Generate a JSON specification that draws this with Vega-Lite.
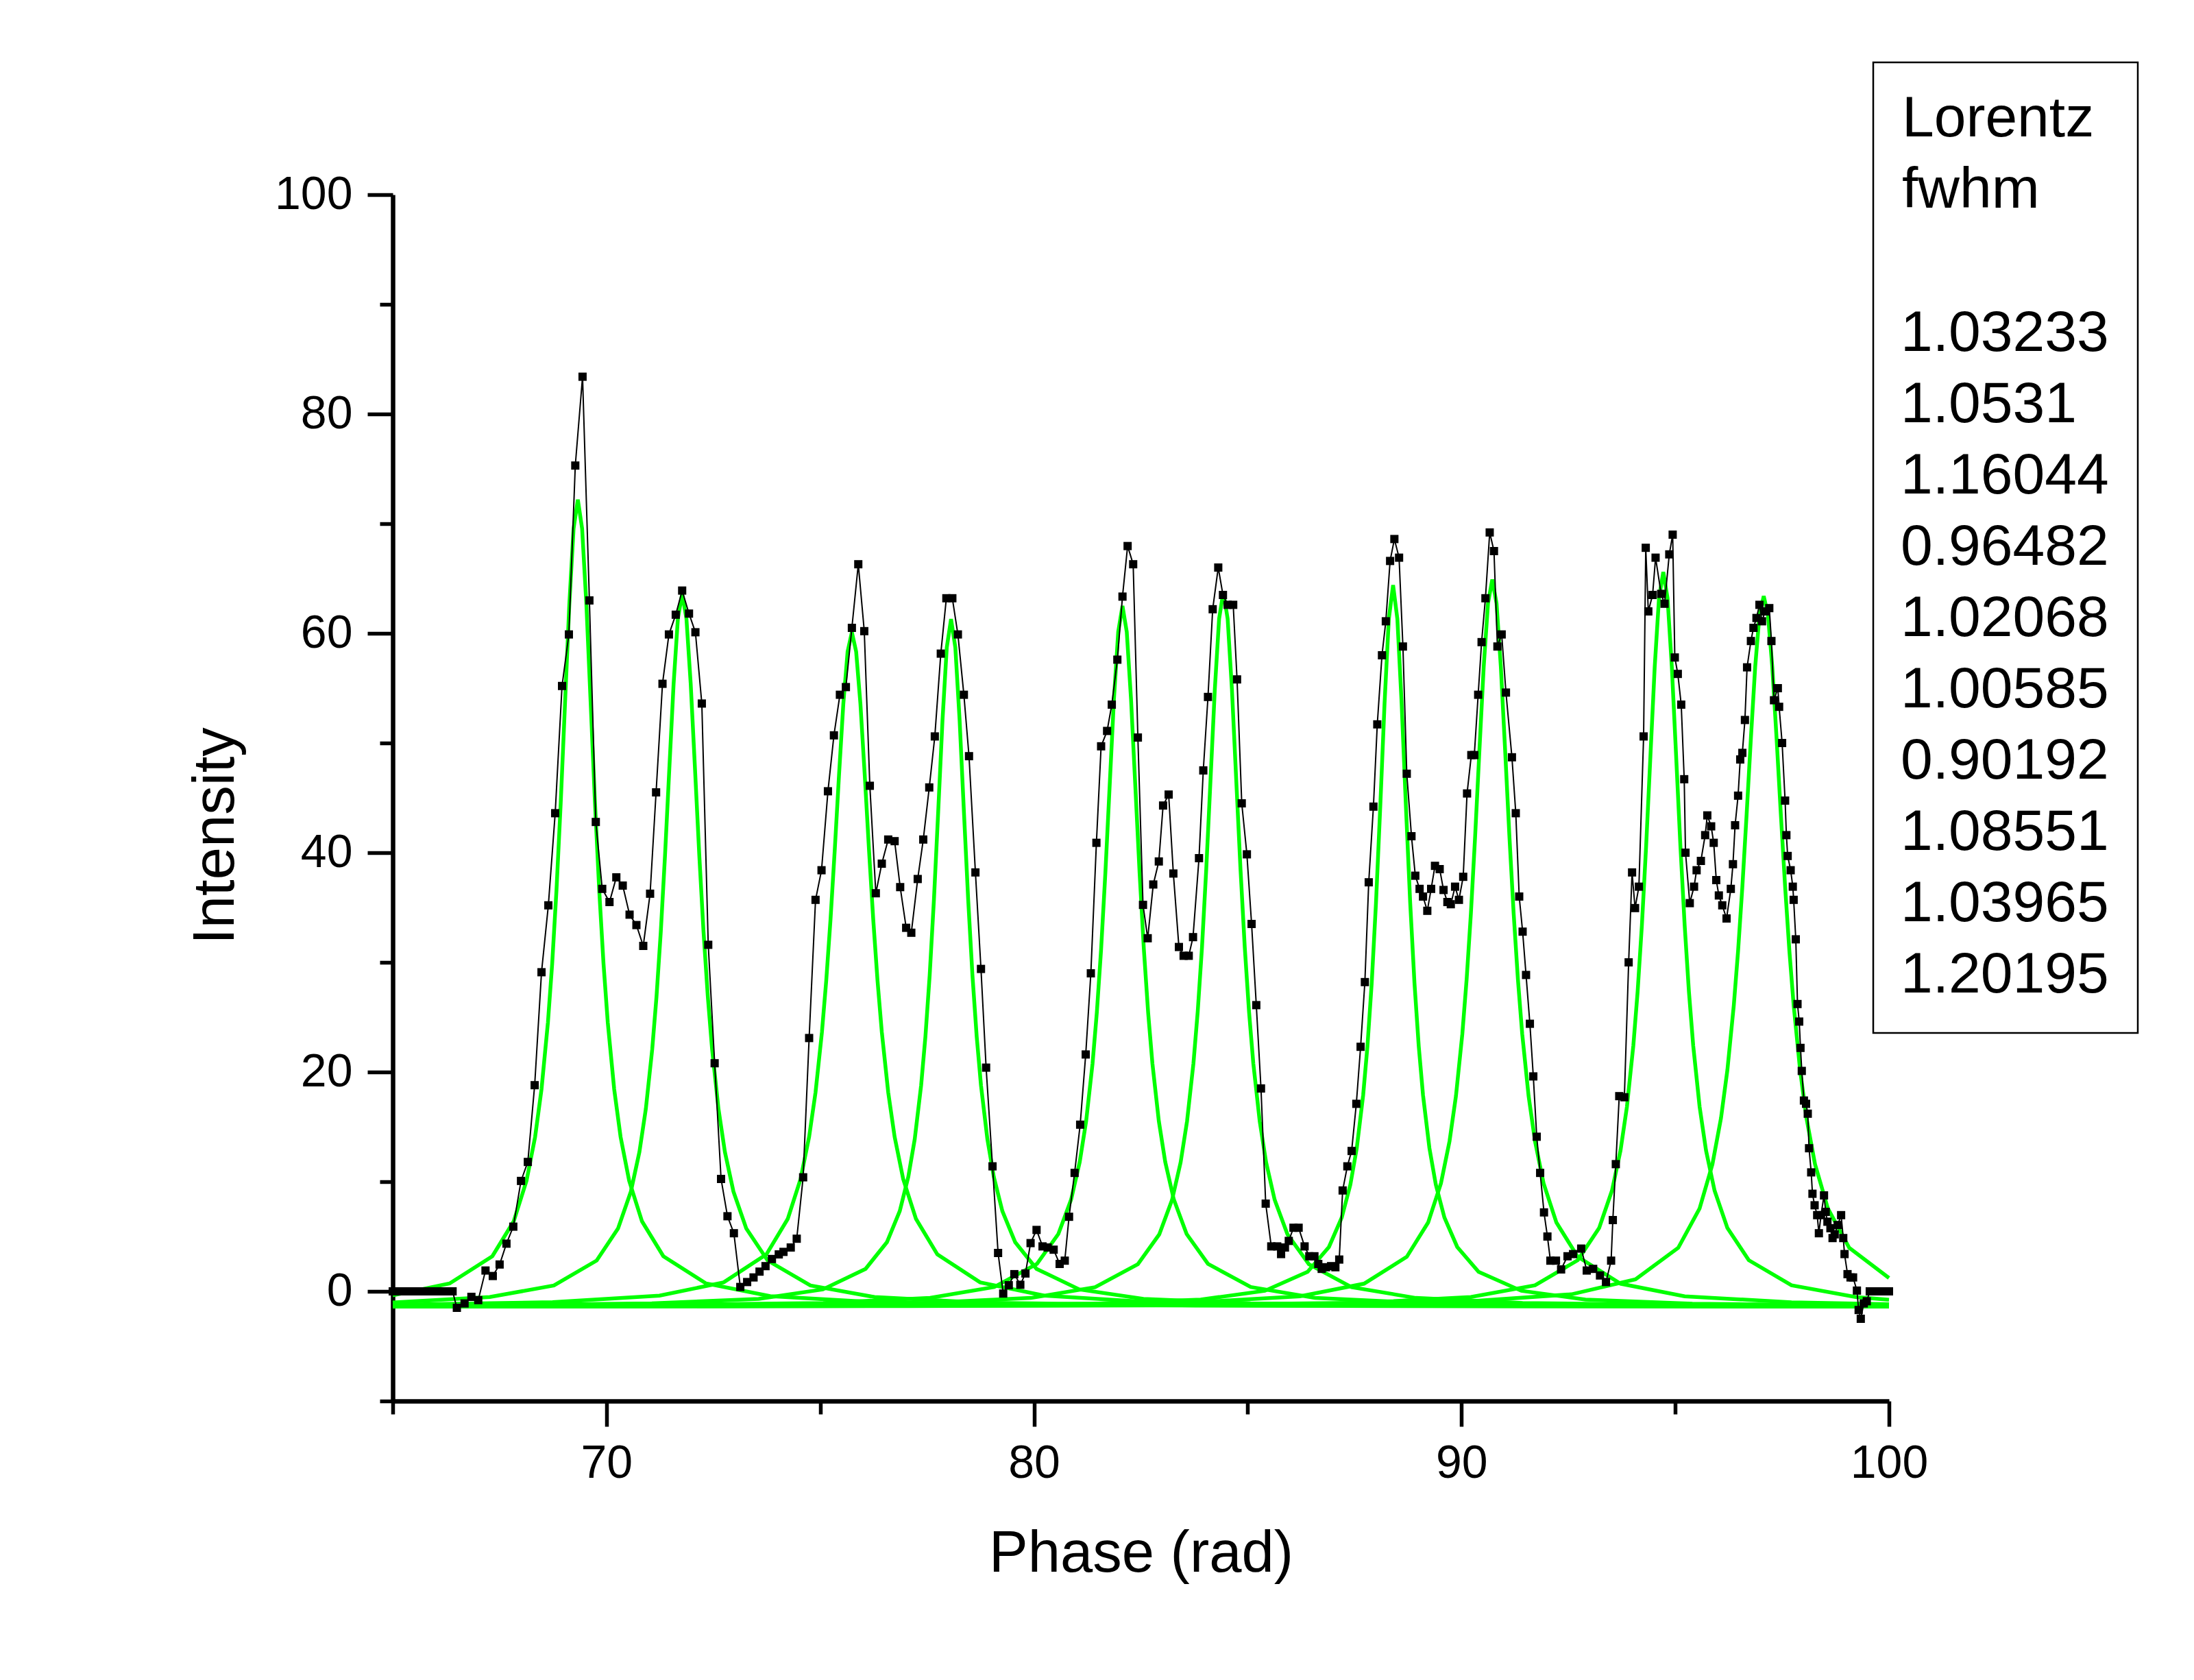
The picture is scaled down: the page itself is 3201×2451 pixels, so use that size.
{
"$schema": "https://vega.github.io/schema/vega-lite/v6.json",
"width": 2183, "height": 1760,
"autosize": {"type": "none"},
"padding": {"left": 573, "top": 284, "right": 445, "bottom": 407},
"background": "white",
"config": {"view": {"stroke": null}, "font": "Liberation Sans"},
"resolve": {"axis": {"x": "independent", "y": "independent"}},
"datasets": {
"measured": [
{"phase":65.0,"intensity":0},{"phase":65.1,"intensity":0},{"phase":65.2,"intensity":0},{"phase":65.3,"intensity":0},{"phase":65.4,"intensity":0},{"phase":65.5,"intensity":0},{"phase":65.6,"intensity":0},{"phase":65.7,"intensity":0},{"phase":65.8,"intensity":0},{"phase":65.9,"intensity":0},{"phase":66.0,"intensity":0},{"phase":66.1,"intensity":0},{"phase":66.2,"intensity":0},{"phase":66.3,"intensity":0},{"phase":66.4,"intensity":0},
{"phase":66.5,"intensity":-1.5},{"phase":66.68,"intensity":-1.1},{"phase":66.84,"intensity":-0.5},{"phase":67.0,"intensity":-0.8},{"phase":67.17,"intensity":1.9},{"phase":67.34,"intensity":1.4},{"phase":67.5,"intensity":2.45},{"phase":67.66,"intensity":4.35},{"phase":67.82,"intensity":5.9},{"phase":68.0,"intensity":10.07},{"phase":68.16,"intensity":11.8},{"phase":68.32,"intensity":18.8},{"phase":68.48,"intensity":29.1},{"phase":68.64,"intensity":35.2},{"phase":68.8,"intensity":43.6},{"phase":68.96,"intensity":55.2},{"phase":69.12,"intensity":59.9},{"phase":69.27,"intensity":75.3},{"phase":69.44,"intensity":83.4},{"phase":69.6,"intensity":63.0},{"phase":69.75,"intensity":42.8},{"phase":69.9,"intensity":36.7},{"phase":70.07,"intensity":35.5},{"phase":70.23,"intensity":37.75},{"phase":70.38,"intensity":37.0},{"phase":70.54,"intensity":34.35},{"phase":70.7,"intensity":33.4},{"phase":70.86,"intensity":31.5},{"phase":71.02,"intensity":36.26},{"phase":71.16,"intensity":45.5},{"phase":71.31,"intensity":55.4},{"phase":71.46,"intensity":59.9},{"phase":71.62,"intensity":61.7},{"phase":71.77,"intensity":63.9},{"phase":71.93,"intensity":61.8},{"phase":72.08,"intensity":60.1},{"phase":72.23,"intensity":53.6},{"phase":72.38,"intensity":31.6},{"phase":72.53,"intensity":20.8},{"phase":72.68,"intensity":10.25},{"phase":72.83,"intensity":6.85},{"phase":72.98,"intensity":5.3},{"phase":73.13,"intensity":0.4},{"phase":73.29,"intensity":0.85},{"phase":73.44,"intensity":1.27},{"phase":73.58,"intensity":1.8},{"phase":73.72,"intensity":2.3},{"phase":73.87,"intensity":2.95},{"phase":74.03,"intensity":3.37},{"phase":74.14,"intensity":3.6},{"phase":74.31,"intensity":4.0},{"phase":74.45,"intensity":4.8},{"phase":74.6,"intensity":10.4},{"phase":74.74,"intensity":23.1},{"phase":74.89,"intensity":35.7},{"phase":75.03,"intensity":38.4},{"phase":75.18,"intensity":45.6},{"phase":75.32,"intensity":50.7},{"phase":75.46,"intensity":54.4},{"phase":75.6,"intensity":55.1},{"phase":75.74,"intensity":60.5},{"phase":75.89,"intensity":66.3},{"phase":76.03,"intensity":60.2},{"phase":76.16,"intensity":46.1},{"phase":76.3,"intensity":36.3},{"phase":76.44,"intensity":39.0},{"phase":76.59,"intensity":41.2},{"phase":76.74,"intensity":41.05},{"phase":76.87,"intensity":36.86},{"phase":77.01,"intensity":33.15},{"phase":77.13,"intensity":32.7},{"phase":77.28,"intensity":37.6},{"phase":77.41,"intensity":41.2},{"phase":77.55,"intensity":45.95},{"phase":77.68,"intensity":50.6},{"phase":77.82,"intensity":58.15},{"phase":77.95,"intensity":63.2},{"phase":78.09,"intensity":63.2},{"phase":78.22,"intensity":59.9},{"phase":78.36,"intensity":54.4},{"phase":78.48,"intensity":48.8},{"phase":78.63,"intensity":38.2},{"phase":78.76,"intensity":29.4},{"phase":78.88,"intensity":20.4},{"phase":79.03,"intensity":11.4},{"phase":79.16,"intensity":3.5},{"phase":79.28,"intensity":-0.2},{"phase":79.41,"intensity":0.56},{"phase":79.54,"intensity":1.57},{"phase":79.68,"intensity":0.6},{"phase":79.8,"intensity":1.63},{"phase":79.92,"intensity":4.4},{"phase":80.06,"intensity":5.6},{"phase":80.2,"intensity":4.1},{"phase":80.32,"intensity":4.0},{"phase":80.46,"intensity":3.8},{"phase":80.6,"intensity":2.5},{"phase":80.72,"intensity":2.8},{"phase":80.82,"intensity":6.8},{"phase":80.95,"intensity":10.8},{"phase":81.08,"intensity":15.2},{"phase":81.21,"intensity":21.6},{"phase":81.33,"intensity":29.0},{"phase":81.46,"intensity":40.9},{"phase":81.57,"intensity":49.7},{"phase":81.71,"intensity":51.1},{"phase":81.82,"intensity":53.5},{"phase":81.95,"intensity":57.6},{"phase":82.07,"intensity":63.35},{"phase":82.19,"intensity":67.96},{"phase":82.32,"intensity":66.3},{"phase":82.43,"intensity":50.5},{"phase":82.55,"intensity":35.24},{"phase":82.66,"intensity":32.2},{"phase":82.79,"intensity":37.1},{"phase":82.92,"intensity":39.2},{"phase":83.02,"intensity":44.3},{"phase":83.15,"intensity":45.3},{"phase":83.26,"intensity":38.1},{"phase":83.39,"intensity":31.4},{"phase":83.5,"intensity":30.6},{"phase":83.62,"intensity":30.6},{"phase":83.72,"intensity":32.3},{"phase":83.86,"intensity":39.5},{"phase":83.96,"intensity":47.5},{"phase":84.07,"intensity":54.2},{"phase":84.18,"intensity":62.2},{"phase":84.31,"intensity":66.0},{"phase":84.42,"intensity":63.5},{"phase":84.53,"intensity":62.6},{"phase":84.66,"intensity":62.6},{"phase":84.75,"intensity":55.8},{"phase":84.86,"intensity":44.5},{"phase":84.98,"intensity":39.85},{"phase":85.09,"intensity":33.5},{"phase":85.2,"intensity":26.1},{"phase":85.31,"intensity":18.5},{"phase":85.42,"intensity":8.0},{"phase":85.55,"intensity":4.1},{"phase":85.69,"intensity":4.1},{"phase":85.78,"intensity":3.4},{"phase":85.87,"intensity":4.0},{"phase":85.96,"intensity":4.6},{"phase":86.07,"intensity":5.8},{"phase":86.19,"intensity":5.8},{"phase":86.33,"intensity":4.1},{"phase":86.44,"intensity":3.2},{"phase":86.56,"intensity":3.2},{"phase":86.65,"intensity":2.5},{"phase":86.73,"intensity":2.05},{"phase":86.83,"intensity":2.2},{"phase":86.95,"intensity":2.3},{"phase":87.05,"intensity":2.2},{"phase":87.14,"intensity":2.9},{"phase":87.22,"intensity":9.2},{"phase":87.33,"intensity":11.4},{"phase":87.43,"intensity":12.8},{"phase":87.54,"intensity":17.1},{"phase":87.64,"intensity":22.3},{"phase":87.74,"intensity":28.2},{"phase":87.83,"intensity":37.3},{"phase":87.94,"intensity":44.2},{"phase":88.03,"intensity":51.7},{"phase":88.14,"intensity":58.0},{"phase":88.23,"intensity":61.1},{"phase":88.33,"intensity":66.6},{"phase":88.43,"intensity":68.6},{"phase":88.54,"intensity":66.9},{"phase":88.63,"intensity":58.8},{"phase":88.72,"intensity":47.2},{"phase":88.83,"intensity":41.5},{"phase":88.92,"intensity":37.9},{"phase":89.02,"intensity":36.7},{"phase":89.1,"intensity":36.0},{"phase":89.2,"intensity":34.7},{"phase":89.29,"intensity":36.7},{"phase":89.38,"intensity":38.8},{"phase":89.49,"intensity":38.5},{"phase":89.58,"intensity":36.6},{"phase":89.67,"intensity":35.5},{"phase":89.75,"intensity":35.3},{"phase":89.85,"intensity":36.9},{"phase":89.94,"intensity":35.7},{"phase":90.04,"intensity":37.8},{"phase":90.13,"intensity":45.4},{"phase":90.23,"intensity":48.9},{"phase":90.3,"intensity":48.9},{"phase":90.39,"intensity":54.4},{"phase":90.47,"intensity":59.2},{"phase":90.56,"intensity":63.2},{"phase":90.66,"intensity":69.2},{"phase":90.76,"intensity":67.5},{"phase":90.84,"intensity":58.8},{"phase":90.94,"intensity":59.9},{"phase":91.04,"intensity":54.6},{"phase":91.18,"intensity":48.7},{"phase":91.27,"intensity":43.6},{"phase":91.35,"intensity":36.0},{"phase":91.43,"intensity":32.8},{"phase":91.51,"intensity":28.85},{"phase":91.6,"intensity":24.4},{"phase":91.68,"intensity":19.6},{"phase":91.76,"intensity":14.1},{"phase":91.84,"intensity":10.8},{"phase":91.93,"intensity":7.2},{"phase":92.01,"intensity":5.0},{"phase":92.08,"intensity":2.8},{"phase":92.21,"intensity":2.8},{"phase":92.33,"intensity":2.0},{"phase":92.48,"intensity":3.2},{"phase":92.61,"intensity":3.4},{"phase":92.8,"intensity":3.9},{"phase":92.93,"intensity":1.9},{"phase":93.08,"intensity":2.05},{"phase":93.24,"intensity":1.45},{"phase":93.38,"intensity":0.85},{"phase":93.5,"intensity":2.8},{"phase":93.54,"intensity":6.5},{"phase":93.61,"intensity":11.6},{"phase":93.69,"intensity":17.8},{"phase":93.81,"intensity":17.7},{"phase":93.91,"intensity":30.0},{"phase":93.99,"intensity":38.2},{"phase":94.06,"intensity":34.95},{"phase":94.15,"intensity":36.9},{"phase":94.26,"intensity":50.6},{"phase":94.31,"intensity":67.8},{"phase":94.37,"intensity":62.0},{"phase":94.47,"intensity":63.5},{"phase":94.54,"intensity":66.9},{"phase":94.67,"intensity":63.6},{"phase":94.75,"intensity":62.7},{"phase":94.86,"intensity":67.2},{"phase":94.94,"intensity":69.0},{"phase":94.99,"intensity":57.8},{"phase":95.06,"intensity":56.3},{"phase":95.14,"intensity":53.5},{"phase":95.21,"intensity":46.7},{"phase":95.24,"intensity":40.0},{"phase":95.34,"intensity":35.4},{"phase":95.44,"intensity":36.9},{"phase":95.5,"intensity":38.4},{"phase":95.6,"intensity":39.25},{"phase":95.7,"intensity":41.6},{"phase":95.75,"intensity":43.4},{"phase":95.84,"intensity":42.4},{"phase":95.9,"intensity":40.9},{"phase":95.96,"intensity":37.5},{"phase":96.02,"intensity":36.1},{"phase":96.1,"intensity":35.2},{"phase":96.2,"intensity":34.0},{"phase":96.3,"intensity":36.7},{"phase":96.35,"intensity":38.95},{"phase":96.4,"intensity":42.5},{"phase":96.47,"intensity":45.2},{"phase":96.52,"intensity":48.5},{"phase":96.57,"intensity":49.1},{"phase":96.63,"intensity":52.1},{"phase":96.68,"intensity":56.9},{"phase":96.77,"intensity":59.3},{"phase":96.83,"intensity":60.5},{"phase":96.9,"intensity":61.4},{"phase":96.97,"intensity":62.6},{"phase":97.03,"intensity":61.1},{"phase":97.1,"intensity":62.0},{"phase":97.2,"intensity":62.3},{"phase":97.25,"intensity":59.3},{"phase":97.31,"intensity":53.9},{"phase":97.4,"intensity":55.0},{"phase":97.43,"intensity":53.3},{"phase":97.5,"intensity":50.0},{"phase":97.57,"intensity":44.75},{"phase":97.6,"intensity":41.6},{"phase":97.63,"intensity":39.7},{"phase":97.7,"intensity":38.4},{"phase":97.75,"intensity":36.9},{"phase":97.77,"intensity":35.7},{"phase":97.82,"intensity":32.1},{"phase":97.86,"intensity":26.2},{"phase":97.9,"intensity":24.6},{"phase":97.93,"intensity":22.2},{"phase":97.96,"intensity":20.1},{"phase":98.01,"intensity":17.4},{"phase":98.06,"intensity":17.1},{"phase":98.1,"intensity":16.2},{"phase":98.13,"intensity":13.05},{"phase":98.18,"intensity":10.85},{"phase":98.21,"intensity":8.9},{"phase":98.26,"intensity":7.85},{"phase":98.32,"intensity":6.95},{"phase":98.36,"intensity":5.3},{"phase":98.41,"intensity":6.95},{"phase":98.48,"intensity":8.75},{"phase":98.52,"intensity":7.25},{"phase":98.56,"intensity":6.35},{"phase":98.63,"intensity":5.76},{"phase":98.68,"intensity":4.86},{"phase":98.73,"intensity":5.2},{"phase":98.8,"intensity":6.05},{"phase":98.88,"intensity":6.95},{"phase":98.93,"intensity":4.86},{"phase":98.96,"intensity":3.4},{"phase":99.03,"intensity":1.57},{"phase":99.1,"intensity":1.27},{"phase":99.16,"intensity":1.27},{"phase":99.25,"intensity":0.07},{"phase":99.29,"intensity":-1.7},{"phase":99.34,"intensity":-2.5},{"phase":99.41,"intensity":-1.1},{"phase":99.48,"intensity":-0.9},{"phase":99.55,"intensity":0},{"phase":99.6,"intensity":0},{"phase":99.7,"intensity":0},{"phase":99.8,"intensity":0},{"phase":99.9,"intensity":0},{"phase":100,"intensity":0}
],
"fits": [
{"phase":65,"intensity":-0.37,"fwhm":"1.03233"},{"phase":66.33,"intensity":0.72,"fwhm":"1.03233"},{"phase":67.33,"intensity":3.2,"fwhm":"1.03233"},{"phase":67.83,"intensity":6.39,"fwhm":"1.03233"},{"phase":68.13,"intensity":10.09,"fwhm":"1.03233"},{"phase":68.33,"intensity":14.08,"fwhm":"1.03233"},{"phase":68.48,"intensity":18.43,"fwhm":"1.03233"},{"phase":68.63,"intensity":24.52,"fwhm":"1.03233"},{"phase":68.73,"intensity":29.9,"fwhm":"1.03233"},{"phase":68.83,"intensity":36.57,"fwhm":"1.03233"},{"phase":68.93,"intensity":44.58,"fwhm":"1.03233"},{"phase":69.03,"intensity":53.62,"fwhm":"1.03233"},{"phase":69.13,"intensity":62.6,"fwhm":"1.03233"},{"phase":69.23,"intensity":69.54,"fwhm":"1.03233"},{"phase":69.33,"intensity":72.2,"fwhm":"1.03233"},{"phase":69.43,"intensity":69.54,"fwhm":"1.03233"},{"phase":69.53,"intensity":62.6,"fwhm":"1.03233"},{"phase":69.63,"intensity":53.62,"fwhm":"1.03233"},{"phase":69.73,"intensity":44.58,"fwhm":"1.03233"},{"phase":69.83,"intensity":36.57,"fwhm":"1.03233"},{"phase":69.93,"intensity":29.9,"fwhm":"1.03233"},{"phase":70.03,"intensity":24.52,"fwhm":"1.03233"},{"phase":70.18,"intensity":18.43,"fwhm":"1.03233"},{"phase":70.33,"intensity":14.08,"fwhm":"1.03233"},{"phase":70.53,"intensity":10.09,"fwhm":"1.03233"},{"phase":70.83,"intensity":6.39,"fwhm":"1.03233"},{"phase":71.33,"intensity":3.2,"fwhm":"1.03233"},{"phase":72.33,"intensity":0.72,"fwhm":"1.03233"},{"phase":73.83,"intensity":-0.44,"fwhm":"1.03233"},{"phase":76.33,"intensity":-1.0,"fwhm":"1.03233"},{"phase":81.33,"intensity":-1.26,"fwhm":"1.03233"},{"phase":89.33,"intensity":-1.35,"fwhm":"1.03233"},{"phase":100,"intensity":-1.38,"fwhm":"1.03233"},
{"phase":65,"intensity":-1.01,"fwhm":"1.0531"},{"phase":67.27,"intensity":-0.52,"fwhm":"1.0531"},{"phase":68.77,"intensity":0.54,"fwhm":"1.0531"},{"phase":69.77,"intensity":2.81,"fwhm":"1.0531"},{"phase":70.27,"intensity":5.73,"fwhm":"1.0531"},{"phase":70.57,"intensity":9.1,"fwhm":"1.0531"},{"phase":70.77,"intensity":12.71,"fwhm":"1.0531"},{"phase":70.92,"intensity":16.63,"fwhm":"1.0531"},{"phase":71.07,"intensity":22.09,"fwhm":"1.0531"},{"phase":71.17,"intensity":26.88,"fwhm":"1.0531"},{"phase":71.27,"intensity":32.78,"fwhm":"1.0531"},{"phase":71.37,"intensity":39.82,"fwhm":"1.0531"},{"phase":71.47,"intensity":47.67,"fwhm":"1.0531"},{"phase":71.57,"intensity":55.4,"fwhm":"1.0531"},{"phase":71.67,"intensity":61.34,"fwhm":"1.0531"},{"phase":71.77,"intensity":63.6,"fwhm":"1.0531"},{"phase":71.87,"intensity":61.34,"fwhm":"1.0531"},{"phase":71.97,"intensity":55.4,"fwhm":"1.0531"},{"phase":72.07,"intensity":47.67,"fwhm":"1.0531"},{"phase":72.17,"intensity":39.82,"fwhm":"1.0531"},{"phase":72.27,"intensity":32.78,"fwhm":"1.0531"},{"phase":72.37,"intensity":26.88,"fwhm":"1.0531"},{"phase":72.47,"intensity":22.09,"fwhm":"1.0531"},{"phase":72.62,"intensity":16.63,"fwhm":"1.0531"},{"phase":72.77,"intensity":12.71,"fwhm":"1.0531"},{"phase":72.97,"intensity":9.1,"fwhm":"1.0531"},{"phase":73.27,"intensity":5.73,"fwhm":"1.0531"},{"phase":73.77,"intensity":2.81,"fwhm":"1.0531"},{"phase":74.77,"intensity":0.54,"fwhm":"1.0531"},{"phase":76.27,"intensity":-0.52,"fwhm":"1.0531"},{"phase":78.77,"intensity":-1.03,"fwhm":"1.0531"},{"phase":83.77,"intensity":-1.28,"fwhm":"1.0531"},{"phase":91.77,"intensity":-1.36,"fwhm":"1.0531"},{"phase":100,"intensity":-1.38,"fwhm":"1.0531"},
{"phase":65,"intensity":-1.22,"fwhm":"1.16044"},{"phase":68.74,"intensity":-0.98,"fwhm":"1.16044"},{"phase":71.24,"intensity":-0.39,"fwhm":"1.16044"},{"phase":72.74,"intensity":0.82,"fwhm":"1.16044"},{"phase":73.74,"intensity":3.37,"fwhm":"1.16044"},{"phase":74.24,"intensity":6.61,"fwhm":"1.16044"},{"phase":74.54,"intensity":10.25,"fwhm":"1.16044"},{"phase":74.74,"intensity":14.09,"fwhm":"1.16044"},{"phase":74.89,"intensity":18.15,"fwhm":"1.16044"},{"phase":75.04,"intensity":23.65,"fwhm":"1.16044"},{"phase":75.14,"intensity":28.32,"fwhm":"1.16044"},{"phase":75.24,"intensity":33.89,"fwhm":"1.16044"},{"phase":75.34,"intensity":40.29,"fwhm":"1.16044"},{"phase":75.44,"intensity":47.13,"fwhm":"1.16044"},{"phase":75.54,"intensity":53.57,"fwhm":"1.16044"},{"phase":75.64,"intensity":58.33,"fwhm":"1.16044"},{"phase":75.74,"intensity":60.1,"fwhm":"1.16044"},{"phase":75.84,"intensity":58.33,"fwhm":"1.16044"},{"phase":75.94,"intensity":53.57,"fwhm":"1.16044"},{"phase":76.04,"intensity":47.13,"fwhm":"1.16044"},{"phase":76.14,"intensity":40.29,"fwhm":"1.16044"},{"phase":76.24,"intensity":33.89,"fwhm":"1.16044"},{"phase":76.34,"intensity":28.32,"fwhm":"1.16044"},{"phase":76.44,"intensity":23.65,"fwhm":"1.16044"},{"phase":76.59,"intensity":18.15,"fwhm":"1.16044"},{"phase":76.74,"intensity":14.09,"fwhm":"1.16044"},{"phase":76.94,"intensity":10.25,"fwhm":"1.16044"},{"phase":77.24,"intensity":6.61,"fwhm":"1.16044"},{"phase":77.74,"intensity":3.37,"fwhm":"1.16044"},{"phase":78.74,"intensity":0.82,"fwhm":"1.16044"},{"phase":80.24,"intensity":-0.39,"fwhm":"1.16044"},{"phase":82.74,"intensity":-0.98,"fwhm":"1.16044"},{"phase":87.74,"intensity":-1.26,"fwhm":"1.16044"},{"phase":95.74,"intensity":-1.35,"fwhm":"1.16044"},{"phase":100,"intensity":-1.37,"fwhm":"1.16044"},
{"phase":65,"intensity":-1.31,"fwhm":"0.96482"},{"phase":66.06,"intensity":-1.3,"fwhm":"0.96482"},{"phase":71.06,"intensity":-1.1,"fwhm":"0.96482"},{"phase":73.56,"intensity":-0.69,"fwhm":"0.96482"},{"phase":75.06,"intensity":0.18,"fwhm":"0.96482"},{"phase":76.06,"intensity":2.05,"fwhm":"0.96482"},{"phase":76.56,"intensity":4.48,"fwhm":"0.96482"},{"phase":76.86,"intensity":7.32,"fwhm":"0.96482"},{"phase":77.06,"intensity":10.44,"fwhm":"0.96482"},{"phase":77.21,"intensity":13.87,"fwhm":"0.96482"},{"phase":77.36,"intensity":18.79,"fwhm":"0.96482"},{"phase":77.46,"intensity":23.22,"fwhm":"0.96482"},{"phase":77.56,"intensity":28.83,"fwhm":"0.96482"},{"phase":77.66,"intensity":35.76,"fwhm":"0.96482"},{"phase":77.76,"intensity":43.81,"fwhm":"0.96482"},{"phase":77.86,"intensity":52.1,"fwhm":"0.96482"},{"phase":77.96,"intensity":58.72,"fwhm":"0.96482"},{"phase":78.06,"intensity":61.3,"fwhm":"0.96482"},{"phase":78.16,"intensity":58.72,"fwhm":"0.96482"},{"phase":78.26,"intensity":52.1,"fwhm":"0.96482"},{"phase":78.36,"intensity":43.81,"fwhm":"0.96482"},{"phase":78.46,"intensity":35.76,"fwhm":"0.96482"},{"phase":78.56,"intensity":28.83,"fwhm":"0.96482"},{"phase":78.66,"intensity":23.22,"fwhm":"0.96482"},{"phase":78.76,"intensity":18.79,"fwhm":"0.96482"},{"phase":78.91,"intensity":13.87,"fwhm":"0.96482"},{"phase":79.06,"intensity":10.44,"fwhm":"0.96482"},{"phase":79.26,"intensity":7.32,"fwhm":"0.96482"},{"phase":79.56,"intensity":4.48,"fwhm":"0.96482"},{"phase":80.06,"intensity":2.05,"fwhm":"0.96482"},{"phase":81.06,"intensity":0.18,"fwhm":"0.96482"},{"phase":82.56,"intensity":-0.69,"fwhm":"0.96482"},{"phase":85.06,"intensity":-1.1,"fwhm":"0.96482"},{"phase":90.06,"intensity":-1.3,"fwhm":"0.96482"},{"phase":100,"intensity":-1.37,"fwhm":"0.96482"},
{"phase":65,"intensity":-1.34,"fwhm":"1.02068"},{"phase":70.07,"intensity":-1.28,"fwhm":"1.02068"},{"phase":75.07,"intensity":-1.06,"fwhm":"1.02068"},{"phase":77.57,"intensity":-0.59,"fwhm":"1.02068"},{"phase":79.07,"intensity":0.4,"fwhm":"1.02068"},{"phase":80.07,"intensity":2.51,"fwhm":"1.02068"},{"phase":80.57,"intensity":5.23,"fwhm":"1.02068"},{"phase":80.87,"intensity":8.39,"fwhm":"1.02068"},{"phase":81.07,"intensity":11.8,"fwhm":"1.02068"},{"phase":81.22,"intensity":15.53,"fwhm":"1.02068"},{"phase":81.37,"intensity":20.78,"fwhm":"1.02068"},{"phase":81.47,"intensity":25.43,"fwhm":"1.02068"},{"phase":81.57,"intensity":31.2,"fwhm":"1.02068"},{"phase":81.67,"intensity":38.18,"fwhm":"1.02068"},{"phase":81.77,"intensity":46.09,"fwhm":"1.02068"},{"phase":81.87,"intensity":53.99,"fwhm":"1.02068"},{"phase":81.97,"intensity":60.14,"fwhm":"1.02068"},{"phase":82.07,"intensity":62.5,"fwhm":"1.02068"},{"phase":82.17,"intensity":60.14,"fwhm":"1.02068"},{"phase":82.27,"intensity":53.99,"fwhm":"1.02068"},{"phase":82.37,"intensity":46.09,"fwhm":"1.02068"},{"phase":82.47,"intensity":38.18,"fwhm":"1.02068"},{"phase":82.57,"intensity":31.2,"fwhm":"1.02068"},{"phase":82.67,"intensity":25.43,"fwhm":"1.02068"},{"phase":82.77,"intensity":20.78,"fwhm":"1.02068"},{"phase":82.92,"intensity":15.53,"fwhm":"1.02068"},{"phase":83.07,"intensity":11.8,"fwhm":"1.02068"},{"phase":83.27,"intensity":8.39,"fwhm":"1.02068"},{"phase":83.57,"intensity":5.23,"fwhm":"1.02068"},{"phase":84.07,"intensity":2.51,"fwhm":"1.02068"},{"phase":85.07,"intensity":0.4,"fwhm":"1.02068"},{"phase":86.57,"intensity":-0.59,"fwhm":"1.02068"},{"phase":89.07,"intensity":-1.06,"fwhm":"1.02068"},{"phase":94.07,"intensity":-1.28,"fwhm":"1.02068"},{"phase":100,"intensity":-1.35,"fwhm":"1.02068"},
{"phase":65,"intensity":-1.36,"fwhm":"1.00585"},{"phase":72.43,"intensity":-1.29,"fwhm":"1.00585"},{"phase":77.43,"intensity":-1.07,"fwhm":"1.00585"},{"phase":79.93,"intensity":-0.6,"fwhm":"1.00585"},{"phase":81.43,"intensity":0.38,"fwhm":"1.00585"},{"phase":82.43,"intensity":2.48,"fwhm":"1.00585"},{"phase":82.93,"intensity":5.19,"fwhm":"1.00585"},{"phase":83.23,"intensity":8.34,"fwhm":"1.00585"},{"phase":83.43,"intensity":11.76,"fwhm":"1.00585"},{"phase":83.58,"intensity":15.51,"fwhm":"1.00585"},{"phase":83.73,"intensity":20.8,"fwhm":"1.00585"},{"phase":83.83,"intensity":25.51,"fwhm":"1.00585"},{"phase":83.93,"intensity":31.39,"fwhm":"1.00585"},{"phase":84.03,"intensity":38.54,"fwhm":"1.00585"},{"phase":84.13,"intensity":46.69,"fwhm":"1.00585"},{"phase":84.23,"intensity":54.9,"fwhm":"1.00585"},{"phase":84.33,"intensity":61.32,"fwhm":"1.00585"},{"phase":84.43,"intensity":63.8,"fwhm":"1.00585"},{"phase":84.53,"intensity":61.32,"fwhm":"1.00585"},{"phase":84.63,"intensity":54.9,"fwhm":"1.00585"},{"phase":84.73,"intensity":46.69,"fwhm":"1.00585"},{"phase":84.83,"intensity":38.54,"fwhm":"1.00585"},{"phase":84.93,"intensity":31.39,"fwhm":"1.00585"},{"phase":85.03,"intensity":25.51,"fwhm":"1.00585"},{"phase":85.13,"intensity":20.8,"fwhm":"1.00585"},{"phase":85.28,"intensity":15.51,"fwhm":"1.00585"},{"phase":85.43,"intensity":11.76,"fwhm":"1.00585"},{"phase":85.63,"intensity":8.34,"fwhm":"1.00585"},{"phase":85.93,"intensity":5.19,"fwhm":"1.00585"},{"phase":86.43,"intensity":2.48,"fwhm":"1.00585"},{"phase":87.43,"intensity":0.38,"fwhm":"1.00585"},{"phase":88.93,"intensity":-0.6,"fwhm":"1.00585"},{"phase":91.43,"intensity":-1.07,"fwhm":"1.00585"},{"phase":96.43,"intensity":-1.29,"fwhm":"1.00585"},{"phase":100,"intensity":-1.33,"fwhm":"1.00585"},
{"phase":65,"intensity":-1.38,"fwhm":"0.90192"},{"phase":76.4,"intensity":-1.31,"fwhm":"0.90192"},{"phase":81.4,"intensity":-1.13,"fwhm":"0.90192"},{"phase":83.9,"intensity":-0.75,"fwhm":"0.90192"},{"phase":85.4,"intensity":0.05,"fwhm":"0.90192"},{"phase":86.4,"intensity":1.78,"fwhm":"0.90192"},{"phase":86.9,"intensity":4.05,"fwhm":"0.90192"},{"phase":87.2,"intensity":6.74,"fwhm":"0.90192"},{"phase":87.4,"intensity":9.72,"fwhm":"0.90192"},{"phase":87.55,"intensity":13.05,"fwhm":"0.90192"},{"phase":87.7,"intensity":17.9,"fwhm":"0.90192"},{"phase":87.8,"intensity":22.35,"fwhm":"0.90192"},{"phase":87.9,"intensity":28.12,"fwhm":"0.90192"},{"phase":88.0,"intensity":35.43,"fwhm":"0.90192"},{"phase":88.1,"intensity":44.21,"fwhm":"0.90192"},{"phase":88.2,"intensity":53.59,"fwhm":"0.90192"},{"phase":88.3,"intensity":61.31,"fwhm":"0.90192"},{"phase":88.4,"intensity":64.4,"fwhm":"0.90192"},{"phase":88.5,"intensity":61.31,"fwhm":"0.90192"},{"phase":88.6,"intensity":53.59,"fwhm":"0.90192"},{"phase":88.7,"intensity":44.21,"fwhm":"0.90192"},{"phase":88.8,"intensity":35.43,"fwhm":"0.90192"},{"phase":88.9,"intensity":28.12,"fwhm":"0.90192"},{"phase":89.0,"intensity":22.35,"fwhm":"0.90192"},{"phase":89.1,"intensity":17.9,"fwhm":"0.90192"},{"phase":89.25,"intensity":13.05,"fwhm":"0.90192"},{"phase":89.4,"intensity":9.72,"fwhm":"0.90192"},{"phase":89.6,"intensity":6.74,"fwhm":"0.90192"},{"phase":89.9,"intensity":4.05,"fwhm":"0.90192"},{"phase":90.4,"intensity":1.78,"fwhm":"0.90192"},{"phase":91.4,"intensity":0.05,"fwhm":"0.90192"},{"phase":92.9,"intensity":-0.75,"fwhm":"0.90192"},{"phase":95.4,"intensity":-1.13,"fwhm":"0.90192"},{"phase":100,"intensity":-1.3,"fwhm":"0.90192"},
{"phase":65,"intensity":-1.37,"fwhm":"1.08551"},{"phase":70.72,"intensity":-1.35,"fwhm":"1.08551"},{"phase":78.72,"intensity":-1.27,"fwhm":"1.08551"},{"phase":83.72,"intensity":-1.0,"fwhm":"1.08551"},{"phase":86.22,"intensity":-0.45,"fwhm":"1.08551"},{"phase":87.72,"intensity":0.7,"fwhm":"1.08551"},{"phase":88.72,"intensity":3.15,"fwhm":"1.08551"},{"phase":89.22,"intensity":6.28,"fwhm":"1.08551"},{"phase":89.52,"intensity":9.86,"fwhm":"1.08551"},{"phase":89.72,"intensity":13.69,"fwhm":"1.08551"},{"phase":89.87,"intensity":17.8,"fwhm":"1.08551"},{"phase":90.02,"intensity":23.49,"fwhm":"1.08551"},{"phase":90.12,"intensity":28.44,"fwhm":"1.08551"},{"phase":90.22,"intensity":34.46,"fwhm":"1.08551"},{"phase":90.32,"intensity":41.56,"fwhm":"1.08551"},{"phase":90.42,"intensity":49.39,"fwhm":"1.08551"},{"phase":90.52,"intensity":56.98,"fwhm":"1.08551"},{"phase":90.62,"intensity":62.73,"fwhm":"1.08551"},{"phase":90.72,"intensity":64.9,"fwhm":"1.08551"},{"phase":90.82,"intensity":62.73,"fwhm":"1.08551"},{"phase":90.92,"intensity":56.98,"fwhm":"1.08551"},{"phase":91.02,"intensity":49.39,"fwhm":"1.08551"},{"phase":91.12,"intensity":41.56,"fwhm":"1.08551"},{"phase":91.22,"intensity":34.46,"fwhm":"1.08551"},{"phase":91.32,"intensity":28.44,"fwhm":"1.08551"},{"phase":91.42,"intensity":23.49,"fwhm":"1.08551"},{"phase":91.57,"intensity":17.8,"fwhm":"1.08551"},{"phase":91.72,"intensity":13.69,"fwhm":"1.08551"},{"phase":91.92,"intensity":9.86,"fwhm":"1.08551"},{"phase":92.22,"intensity":6.28,"fwhm":"1.08551"},{"phase":92.72,"intensity":3.15,"fwhm":"1.08551"},{"phase":93.72,"intensity":0.7,"fwhm":"1.08551"},{"phase":95.22,"intensity":-0.45,"fwhm":"1.08551"},{"phase":97.72,"intensity":-1.0,"fwhm":"1.08551"},{"phase":100,"intensity":-1.17,"fwhm":"1.08551"},
{"phase":65,"intensity":-1.38,"fwhm":"1.03965"},{"phase":74.72,"intensity":-1.35,"fwhm":"1.03965"},{"phase":82.72,"intensity":-1.27,"fwhm":"1.03965"},{"phase":87.72,"intensity":-1.03,"fwhm":"1.03965"},{"phase":90.22,"intensity":-0.52,"fwhm":"1.03965"},{"phase":91.72,"intensity":0.55,"fwhm":"1.03965"},{"phase":92.72,"intensity":2.84,"fwhm":"1.03965"},{"phase":93.22,"intensity":5.78,"fwhm":"1.03965"},{"phase":93.52,"intensity":9.19,"fwhm":"1.03965"},{"phase":93.72,"intensity":12.85,"fwhm":"1.03965"},{"phase":93.87,"intensity":16.84,"fwhm":"1.03965"},{"phase":94.02,"intensity":22.42,"fwhm":"1.03965"},{"phase":94.12,"intensity":27.33,"fwhm":"1.03965"},{"phase":94.22,"intensity":33.4,"fwhm":"1.03965"},{"phase":94.32,"intensity":40.68,"fwhm":"1.03965"},{"phase":94.42,"intensity":48.86,"fwhm":"1.03965"},{"phase":94.52,"intensity":56.96,"fwhm":"1.03965"},{"phase":94.62,"intensity":63.21,"fwhm":"1.03965"},{"phase":94.72,"intensity":65.6,"fwhm":"1.03965"},{"phase":94.82,"intensity":63.21,"fwhm":"1.03965"},{"phase":94.92,"intensity":56.96,"fwhm":"1.03965"},{"phase":95.02,"intensity":48.86,"fwhm":"1.03965"},{"phase":95.12,"intensity":40.68,"fwhm":"1.03965"},{"phase":95.22,"intensity":33.4,"fwhm":"1.03965"},{"phase":95.32,"intensity":27.33,"fwhm":"1.03965"},{"phase":95.42,"intensity":22.42,"fwhm":"1.03965"},{"phase":95.57,"intensity":16.84,"fwhm":"1.03965"},{"phase":95.72,"intensity":12.85,"fwhm":"1.03965"},{"phase":95.92,"intensity":9.19,"fwhm":"1.03965"},{"phase":96.22,"intensity":5.78,"fwhm":"1.03965"},{"phase":96.72,"intensity":2.84,"fwhm":"1.03965"},{"phase":97.72,"intensity":0.55,"fwhm":"1.03965"},{"phase":99.22,"intensity":-0.52,"fwhm":"1.03965"},{"phase":100,"intensity":-0.76,"fwhm":"1.03965"},
{"phase":65,"intensity":-1.38,"fwhm":"1.20195"},{"phase":77.07,"intensity":-1.34,"fwhm":"1.20195"},{"phase":85.07,"intensity":-1.24,"fwhm":"1.20195"},{"phase":90.07,"intensity":-0.93,"fwhm":"1.20195"},{"phase":92.57,"intensity":-0.27,"fwhm":"1.20195"},{"phase":94.07,"intensity":1.1,"fwhm":"1.20195"},{"phase":95.07,"intensity":3.97,"fwhm":"1.20195"},{"phase":95.57,"intensity":7.56,"fwhm":"1.20195"},{"phase":95.87,"intensity":11.59,"fwhm":"1.20195"},{"phase":96.07,"intensity":15.79,"fwhm":"1.20195"},{"phase":96.22,"intensity":20.19,"fwhm":"1.20195"},{"phase":96.37,"intensity":26.09,"fwhm":"1.20195"},{"phase":96.47,"intensity":31.05,"fwhm":"1.20195"},{"phase":96.57,"intensity":36.9,"fwhm":"1.20195"},{"phase":96.67,"intensity":43.51,"fwhm":"1.20195"},{"phase":96.77,"intensity":50.47,"fwhm":"1.20195"},{"phase":96.87,"intensity":56.94,"fwhm":"1.20195"},{"phase":96.97,"intensity":61.66,"fwhm":"1.20195"},{"phase":97.07,"intensity":63.4,"fwhm":"1.20195"},{"phase":97.17,"intensity":61.66,"fwhm":"1.20195"},{"phase":97.27,"intensity":56.94,"fwhm":"1.20195"},{"phase":97.37,"intensity":50.47,"fwhm":"1.20195"},{"phase":97.47,"intensity":43.51,"fwhm":"1.20195"},{"phase":97.57,"intensity":36.9,"fwhm":"1.20195"},{"phase":97.67,"intensity":31.05,"fwhm":"1.20195"},{"phase":97.77,"intensity":26.09,"fwhm":"1.20195"},{"phase":97.92,"intensity":20.19,"fwhm":"1.20195"},{"phase":98.07,"intensity":15.79,"fwhm":"1.20195"},{"phase":98.27,"intensity":11.59,"fwhm":"1.20195"},{"phase":98.57,"intensity":7.56,"fwhm":"1.20195"},{"phase":99.07,"intensity":3.97,"fwhm":"1.20195"},{"phase":100,"intensity":1.22,"fwhm":"1.20195"}
]
},
"layer": [
{
"data": {"name": "fits"},
"mark": {"type": "line", "strokeWidth": 5.5, "interpolate": "linear"},
"encoding": {
"x": {"field": "phase", "type": "quantitative",
"scale": {"domain": [65, 100], "nice": false, "zero": false},
"axis": {"orient": "bottom", "title": "Phase (rad)", "values": [70,80,90,100], "format": "d",
"tickSize": 37, "tickWidth": 5.5, "tickColor": "black", "domainWidth": 6.5, "domainColor": "black", "grid": false,
"labelFont": "Liberation Sans", "labelFontSize": 68, "labelColor": "black", "labelPadding": 20, "labelFlush": false, "labelOverlap": false,
"titleFont": "Liberation Sans", "titleFontSize": 85, "titleFontWeight": "normal", "titleColor": "black", "titleBaseline": "alphabetic", "titleY": 248}},
"y": {"field": "intensity", "type": "quantitative",
"scale": {"domain": [-10, 100], "nice": false, "zero": false},
"axis": {"orient": "left", "title": "Intensity", "values": [0,20,40,60,80,100], "format": "d",
"tickSize": 37, "tickWidth": 5.5, "tickColor": "black", "domainWidth": 6.5, "domainColor": "black", "grid": false,
"labelFont": "Liberation Sans", "labelFontSize": 68, "labelColor": "black", "labelPadding": 22, "labelOverlap": false, "labelFlush": false,
"titleFont": "Liberation Sans", "titleFontSize": 85, "titleFontWeight": "normal", "titleColor": "black", "titleBaseline": "alphabetic", "titleAngle": -90, "titleAlign": "center", "titleX": -233, "titleY": 935}},
"stroke": {"field": "fwhm", "type": "nominal",
"scale": {"domain": ["1.03233","1.0531","1.16044","0.96482","1.02068","1.00585","0.90192","1.08551","1.03965","1.20195"],
"range": ["#00ff00","#00ff00","#00ff00","#00ff00","#00ff00","#00ff00","#00ff00","#00ff00","#00ff00","#00ff00"]},
"legend": {"orient": "none", "legendX": 2160, "legendY": -193, "direction": "vertical",
"title": ["Lorentz", "fwhm"], "titleFont": "Liberation Sans", "titleFontSize": 84, "titleFontWeight": "normal", "titleColor": "black", "titleLineHeight": 104, "titlePadding": 124, "titleLimit": 2000, "titleAnchor": "start",
"labelFont": "Liberation Sans", "labelFontSize": 84, "labelColor": "black", "labelLimit": 2000, "labelOffset": -86,
"symbolSize": 0, "symbolStrokeWidth": 0, "symbolOpacity": 0, "rowPadding": 20, "padding": 42,
"strokeColor": "black", "fillColor": "white",
"encode": {"legend": {"update": {"strokeWidth": {"value": 2.5}}}}}}
}
},
{
"data": {"name": "measured"},
"mark": {"type": "line", "color": "black", "strokeWidth": 2, "point": {"shape": "square", "size": 144, "filled": true, "color": "black", "opacity": 1}},
"encoding": {
"x": {"field": "phase", "type": "quantitative",
"axis": {"orient": "bottom", "title": null, "values": [65,75,85,95], "labels": false, "domain": false, "grid": false, "tickSize": 19, "tickWidth": 5.5, "tickColor": "black"}},
"y": {"field": "intensity", "type": "quantitative",
"axis": {"orient": "left", "title": null, "values": [-10,10,30,50,70,90], "labels": false, "domain": false, "grid": false, "tickSize": 19, "tickWidth": 5.5, "tickColor": "black"}}
}
}
]
}
